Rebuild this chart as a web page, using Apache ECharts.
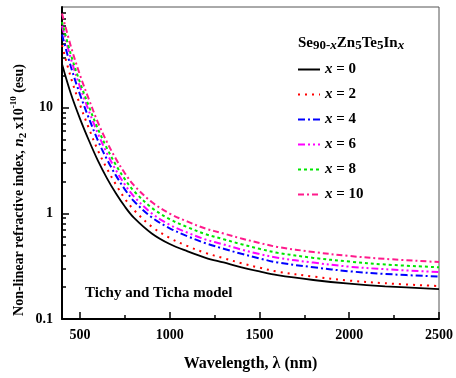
<!DOCTYPE html>
<html>
<head>
<meta charset="utf-8">
<script src="https://cdn.jsdelivr.net/npm/echarts@6/dist/echarts.min.js"></script>
<style>
	html, body { margin:0; padding:0; background:#fff; }
	#main { width:456px; height:378px; }
</style>
</head>
<body>
<div id="main"></div>
<script>
	// wavelength (nm)
	var wavelength = [400,450,500,550,600,650,700,750,800,900,1000,1100,1200,1300,1400,1500,1600,1800,2000,2200,2500];
	// n2 x10^-10 (esu)
	var n2_x0  = [26,13.5,7.9,4.9,3.16,2.16,1.55,1.16,0.912,0.646,0.513,0.437,0.38,0.343,0.309,0.282,0.26,0.234,0.216,0.204,0.192];
	var n2_x2  = [39,19.2,10.7,6.37,3.95,2.66,1.88,1.38,1.08,0.749,0.585,0.489,0.422,0.377,0.337,0.306,0.281,0.252,0.231,0.218,0.205];
	var n2_x4  = [49.4,24.3,13.4,7.94,4.9,3.26,2.29,1.69,1.31,0.917,0.723,0.607,0.521,0.463,0.414,0.375,0.343,0.309,0.283,0.267,0.252];
	var n2_x6  = [59.8,29.0,15.8,9.31,5.69,3.72,2.57,1.88,1.45,1.0,0.78,0.656,0.566,0.508,0.454,0.412,0.38,0.342,0.313,0.296,0.278];
	var n2_x8  = [65,31.7,17.4,10.3,6.32,4.15,2.88,2.11,1.63,1.13,0.882,0.739,0.635,0.569,0.51,0.462,0.424,0.379,0.35,0.328,0.309];
	var n2_x10 = [78,37.8,20.5,12.0,7.27,4.75,3.29,2.4,1.85,1.28,0.995,0.835,0.718,0.645,0.578,0.525,0.481,0.431,0.395,0.371,0.346];

	var xValues = ['0','2','4','6','8','10'];
	var xLabelValues = [500,1000,1500,2000,2500];
	var xMinorTicks = [750,1250,1750,2250];
	var yLabelValues = [0.1,1,10];
	var yMinorTicks = [0.2,0.3,0.4,0.5,0.6,0.7,0.8,0.9,2,3,4,5,6,7,8,9,20,30,40,50,60,70,80];

	var allData = [n2_x0,n2_x2,n2_x4,n2_x6,n2_x8,n2_x10];
	var colors = ['#000000','#ff0000','#0000ff','#ff00ff','#00e600','#ff1a8c'];
	var dashes = ['solid',[2,5],[7,3,2,3],[7,3,2,3,2,3],[3,3],[6,3,2,3]];
	var widths = [1.8,2,2,2,2,2];

	var serif = 'Liberation Serif';

	var series = [];
	for (var i = 0; i < allData.length; i++) {
		var pts = [];
		for (var j = 0; j < wavelength.length; j++) {
			pts.push([wavelength[j], allData[i][j]]);
		}
		series.push({
			name: 'x = ' + xValues[i],
			type: 'line',
			data: pts,
			smooth: 0.35,
			showSymbol: false,
			symbol: 'none',
			color: colors[i],
			lineStyle: { color: colors[i], width: widths[i], type: dashes[i] }
		});
	}

	var axisBase = {
		type: 'value',
		min: 400,
		max: 2500,
		position: 'bottom',
		splitLine: { show: false }
	};

	option = {
		animation: false,
		grid: { left: 62, right: 12, top: 7, bottom: 59, show: true, borderColor: '#555', borderWidth: 1 },
		xAxis: [
			Object.assign({}, axisBase, {
				name: 'Wavelength, λ (nm)',
				nameLocation: 'middle',
				nameGap: 37,
				nameTextStyle: { fontFamily: serif, fontWeight: 'bold', fontSize: 16, color: '#000' },
				axisLine: { show: true, lineStyle: { color: '#000', width: 2 } },
				axisTick: { show: true, inside: true, length: 7, lineStyle: { color: '#000', width: 1.5 }, customValues: xLabelValues },
				axisLabel: { fontFamily: serif, fontWeight: 'bold', fontSize: 14, color: '#000', margin: 9, customValues: xLabelValues,
					formatter: function (v) { return String(v); } }
			}),
			Object.assign({}, axisBase, {
				axisLine: { show: false },
				axisTick: { show: true, inside: true, length: 4, lineStyle: { color: '#000', width: 1.5 }, customValues: xMinorTicks },
				axisLabel: { show: false }
			})
		],
		yAxis: [
			{
				type: 'log',
				min: 0.1,
				max: 90,
				position: 'left',
				splitLine: { show: false },
				axisLine: { show: true, lineStyle: { color: '#000', width: 2 } },
				axisTick: { show: true, inside: true, length: 7, lineStyle: { color: '#000', width: 1.5 }, customValues: yLabelValues },
				axisLabel: { fontFamily: serif, fontWeight: 'bold', fontSize: 14, color: '#000', margin: 9, customValues: yLabelValues,
					formatter: function (v) { return String(v); } }
			},
			{
				type: 'log',
				min: 0.1,
				max: 90,
				position: 'left',
				splitLine: { show: false },
				axisLine: { show: false },
				axisTick: { show: true, inside: true, length: 4, lineStyle: { color: '#000', width: 1.5 }, customValues: yMinorTicks },
				axisLabel: { show: false }
			}
		],
		legend: {
			orient: 'vertical',
			left: 292,
			top: 57,
			itemWidth: 22,
			itemHeight: 10,
			itemGap: 10,
			itemStyle: { opacity: 0 },
			data: series.map(function (s) { return s.name; }),
			formatter: function (name) { return '{i|x} = ' + name.slice(4); },
			textStyle: {
				fontFamily: serif, fontWeight: 'bold', fontSize: 15, color: '#000',
				rich: { i: { fontFamily: serif, fontWeight: 'bold', fontStyle: 'italic', fontSize: 15, color: '#000' } }
			}
		},
		graphic: [
			{
				type: 'text',
				left: 298,
				top: 34,
				style: {
					text: 'Se{sub|90-}{subi|x}Zn{sub|5}Te{sub|5}In{subi|x}',
					fontFamily: serif, fontWeight: 'bold', fontSize: 15, lineHeight: 18, fill: '#000',
					rich: {
						sub: { fontFamily: serif, fontWeight: 'bold', fontSize: 13, verticalAlign: 'bottom' },
						subi: { fontFamily: serif, fontWeight: 'bold', fontStyle: 'italic', fontSize: 13, verticalAlign: 'bottom' }
					}
				}
			},
			{
				type: 'text',
				left: 85,
				top: 286,
				style: { text: 'Tichy and Ticha model', fontFamily: serif, fontWeight: 'bold', fontSize: 15, fill: '#000' }
			},
			{
				type: 'text',
				x: 19,
				y: 190,
				rotation: Math.PI / 2,
				style: {
					text: 'Non-linear refractive index, {i|n}{sub|2} x10{sup|-10} (esu)',
					fontFamily: serif, fontWeight: 'bold', fontSize: 14, lineHeight: 20, fill: '#000',
					align: 'center', verticalAlign: 'middle',
					rich: {
						i: { fontFamily: serif, fontWeight: 'bold', fontStyle: 'italic', fontSize: 15, lineHeight: 20 },
						sub: { fontFamily: serif, fontWeight: 'bold', fontSize: 11, verticalAlign: 'bottom' },
						sup: { fontFamily: serif, fontWeight: 'bold', fontSize: 9, verticalAlign: 'top' }
					}
				}
			}
		],
		series: series
	};
	var myChart = echarts.init(document.getElementById('main'));
	myChart.setOption(option, true);
</script>
</body>
</html>
